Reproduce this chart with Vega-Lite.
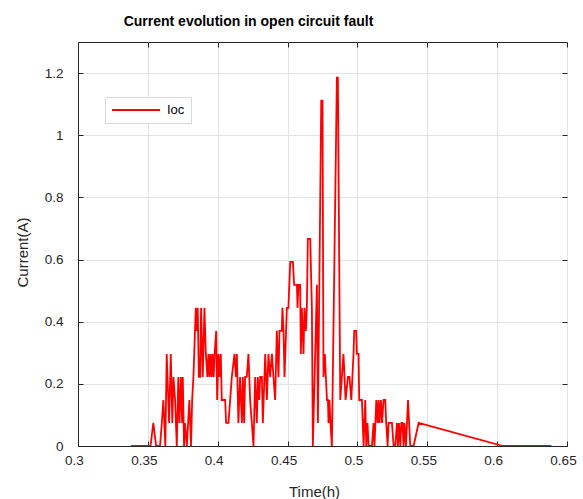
{
  "$schema": "https://vega.github.io/schema/vega-lite/v6.json",
  "width": 489,
  "height": 404,
  "autosize": {"type": "none"},
  "padding": {"left": 78, "top": 42, "right": 16, "bottom": 53},
  "background": "white",
  "config": {"view": {"stroke": "#262626", "strokeWidth": 1}, "font": "Liberation Sans"},
  "title": {"text": "Current evolution in open circuit fault", "font": "Liberation Sans", "fontSize": 14, "fontWeight": "bold", "color": "#000000", "anchor": "middle", "frame": "group", "dx": -74, "dy": 15, "offset": 17, "baseline": "alphabetic"},
  "data": {"values": [
    {"t":0.3380,"i":0},{"t":0.3519,"i":0},{"t":0.3539,"i":0.0741},{"t":0.3559,"i":0},{"t":0.3587,"i":0},
    {"t":0.3600,"i":0.0741},{"t":0.3611,"i":0.1481},{"t":0.3625,"i":0},{"t":0.3635,"i":0.2963},{"t":0.3652,"i":0.0741},
    {"t":0.3664,"i":0.2963},{"t":0.3675,"i":0.0741},{"t":0.3683,"i":0.2222},{"t":0.3695,"i":0.1481},{"t":0.3707,"i":0},
    {"t":0.3718,"i":0.2222},{"t":0.3726,"i":0.0741},{"t":0.3736,"i":0.2222},{"t":0.3745,"i":0.0741},{"t":0.3750,"i":0.2222},
    {"t":0.3759,"i":0},{"t":0.3766,"i":0.0741},{"t":0.3779,"i":0},{"t":0.3788,"i":0.0741},{"t":0.3797,"i":0.1481},
    {"t":0.3809,"i":0},{"t":0.3817,"i":0.1481},{"t":0.3826,"i":0.2222},{"t":0.3843,"i":0.4444},{"t":0.3850,"i":0.3704},
    {"t":0.3857,"i":0.4444},{"t":0.3865,"i":0.2222},{"t":0.3874,"i":0.2222},{"t":0.3881,"i":0.4444},{"t":0.3893,"i":0.2222},
    {"t":0.3905,"i":0.4444},{"t":0.3915,"i":0.2963},{"t":0.3926,"i":0.2222},{"t":0.3933,"i":0.2963},{"t":0.3941,"i":0.2222},
    {"t":0.3948,"i":0.2963},{"t":0.3956,"i":0.2222},{"t":0.3963,"i":0.2963},{"t":0.3971,"i":0.2222},{"t":0.3978,"i":0.2963},
    {"t":0.3989,"i":0.3704},{"t":0.3996,"i":0.1481},{"t":0.4005,"i":0.2963},{"t":0.4012,"i":0.2222},{"t":0.4022,"i":0.2963},
    {"t":0.4029,"i":0.1481},{"t":0.4053,"i":0.1481},{"t":0.4060,"i":0.0741},{"t":0.4077,"i":0.0741},{"t":0.4089,"i":0.1481},
    {"t":0.4101,"i":0.2222},{"t":0.4120,"i":0.2963},{"t":0.4130,"i":0.2222},{"t":0.4137,"i":0.2963},{"t":0.4148,"i":0.0741},
    {"t":0.4160,"i":0.2222},{"t":0.4173,"i":0.0741},{"t":0.4180,"i":0.2222},{"t":0.4189,"i":0.0741},{"t":0.4196,"i":0.2222},
    {"t":0.4208,"i":0.2222},{"t":0.4220,"i":0.2963},{"t":0.4232,"i":0.1481},{"t":0.4244,"i":0.0741},{"t":0.4256,"i":0},
    {"t":0.4268,"i":0.2222},{"t":0.4280,"i":0.0741},{"t":0.4287,"i":0.2222},{"t":0.4297,"i":0.1481},{"t":0.4304,"i":0.2222},
    {"t":0.4316,"i":0.2222},{"t":0.4323,"i":0.0741},{"t":0.4340,"i":0.2963},{"t":0.4352,"i":0.1481},{"t":0.4363,"i":0.2963},
    {"t":0.4375,"i":0.2222},{"t":0.4388,"i":0.2963},{"t":0.4399,"i":0.2222},{"t":0.4411,"i":0.1481},{"t":0.4423,"i":0.3704},
    {"t":0.4435,"i":0.2222},{"t":0.4442,"i":0.3704},{"t":0.4459,"i":0.3704},{"t":0.4463,"i":0.4444},{"t":0.4471,"i":0.3704},
    {"t":0.4478,"i":0.2222},{"t":0.4495,"i":0.4444},{"t":0.4506,"i":0.4444},{"t":0.4519,"i":0.5926},{"t":0.4538,"i":0.5926},
    {"t":0.4547,"i":0.5185},{"t":0.4567,"i":0.5185},{"t":0.4571,"i":0.4444},{"t":0.4578,"i":0.5185},{"t":0.4590,"i":0.5185},
    {"t":0.4595,"i":0.2963},{"t":0.4602,"i":0.4444},{"t":0.4614,"i":0.2963},{"t":0.4621,"i":0.4444},{"t":0.4631,"i":0.3704},
    {"t":0.4638,"i":0.4444},{"t":0.4645,"i":0.6667},{"t":0.4662,"i":0.6667},{"t":0.4674,"i":0.4444},{"t":0.4681,"i":0},
    {"t":0.4710,"i":0.5185},{"t":0.4717,"i":0.0741},{"t":0.4741,"i":1.1111},{"t":0.4750,"i":1.1111},{"t":0.4757,"i":0.2222},
    {"t":0.4767,"i":0.2963},{"t":0.4774,"i":0.2222},{"t":0.4782,"i":0.1481},{"t":0.4789,"i":0.1481},{"t":0.4793,"i":0.0741},
    {"t":0.4800,"i":0.1481},{"t":0.4807,"i":0.0741},{"t":0.4817,"i":0},{"t":0.4853,"i":1.1852},{"t":0.4860,"i":1.1852},
    {"t":0.4877,"i":0.1481},{"t":0.4900,"i":0.2963},{"t":0.4915,"i":0.1481},{"t":0.4932,"i":0.2222},{"t":0.4943,"i":0.2222},
    {"t":0.4956,"i":0.1481},{"t":0.4972,"i":0.2963},{"t":0.4977,"i":0.3704},{"t":0.4991,"i":0.3704},{"t":0.4996,"i":0.2963},
    {"t":0.5008,"i":0.2963},{"t":0.5013,"i":0.1481},{"t":0.5032,"i":0.1481},{"t":0.5044,"i":0},{"t":0.5056,"i":0.1481},
    {"t":0.5063,"i":0},{"t":0.5072,"i":0.0741},{"t":0.5080,"i":0},{"t":0.5104,"i":0},{"t":0.5115,"i":0.0741},
    {"t":0.5122,"i":0},{"t":0.5135,"i":0.1481},{"t":0.5144,"i":0.0741},{"t":0.5151,"i":0.1481},{"t":0.5158,"i":0.0741},
    {"t":0.5168,"i":0.1481},{"t":0.5176,"i":0.0741},{"t":0.5187,"i":0.1481},{"t":0.5199,"i":0.1481},{"t":0.5206,"i":0.0741},
    {"t":0.5216,"i":0},{"t":0.5223,"i":0.0741},{"t":0.5235,"i":0.0741},{"t":0.5247,"i":0.0741},{"t":0.5259,"i":0},
    {"t":0.5271,"i":0},{"t":0.5283,"i":0.0741},{"t":0.5290,"i":0},{"t":0.5297,"i":0.0741},{"t":0.5307,"i":0},
    {"t":0.5314,"i":0.0741},{"t":0.5323,"i":0.0741},{"t":0.5330,"i":0},{"t":0.5337,"i":0.0741},{"t":0.5347,"i":0},
    {"t":0.5362,"i":0.1481},{"t":0.5378,"i":0},{"t":0.5402,"i":0},{"t":0.5438,"i":0.0741},{"t":0.6042,"i":0},
    {"t":0.6388,"i":0}
  ]},
  "layer": [
    {
      "mark": {"type": "line", "strokeWidth": 1.8, "clip": true},
      "encoding": {
        "x": {"field": "t", "type": "quantitative",
          "scale": {"domain": [0.3, 0.65], "nice": false, "zero": false},
          "axis": {"title": "Time(h)", "values": [0.3, 0.35, 0.4, 0.45, 0.5, 0.55, 0.6, 0.65],
            "labelExpr": "format(datum.value, '.2~f')", "grid": true, "gridColor": "#e3e3e3",
            "tickSize": -5, "tickColor": "#262626", "domainColor": "#262626", "labelFlush": false,
            "labelColor": "#262626", "labelFontSize": 13.5, "labelPadding": 12, "labelOffset": -4,
            "titleFontSize": 15, "titleFontWeight": "normal", "titleColor": "#262626",
            "titleX": 236, "titleY": 50, "titleBaseline": "alphabetic"}},
        "y": {"field": "i", "type": "quantitative",
          "scale": {"domain": [0, 1.3], "nice": false, "zero": true},
          "axis": {"title": "Current(A)", "values": [0, 0.2, 0.4, 0.6, 0.8, 1, 1.2],
            "labelExpr": "format(datum.value, '.1~f')", "grid": true, "gridColor": "#e3e3e3",
            "tickSize": -5, "tickColor": "#262626", "domainColor": "#262626", "labelFlush": false,
            "labelColor": "#262626", "labelFontSize": 13.5, "labelPadding": 20,
            "titleFontSize": 15, "titleFontWeight": "normal", "titleColor": "#262626",
            "titleX": -51, "titleY": 210, "titleBaseline": "alphabetic", "titleAlign": "center"}},
        "color": {"datum": "Ioc", "type": "nominal", "scale": {"range": ["#ff0000"]},
          "legend": {"orient": "none", "legendX": 27, "legendY": 55, "title": null,
            "symbolType": "M-1,0H7", "symbolSize": 144, "symbolStrokeWidth": 2,
            "strokeColor": "#d9d9d9", "fillColor": "#ffffff", "padding": 6,
            "labelFontSize": 13, "labelColor": "#000000", "labelOffset": 42}}
      }
    },
    {
      "mark": {"type": "line", "opacity": 0},
      "encoding": {
        "x": {"field": "t", "type": "quantitative",
          "scale": {"domain": [0.3, 0.65], "nice": false, "zero": false},
          "axis": {"orient": "top", "title": null, "labels": false, "grid": false, "domain": false,
            "values": [0.3, 0.35, 0.4, 0.45, 0.5, 0.55, 0.6, 0.65], "tickSize": -5, "tickColor": "#262626"}},
        "y": {"field": "i", "type": "quantitative",
          "scale": {"domain": [0, 1.3], "nice": false, "zero": true},
          "axis": {"orient": "right", "title": null, "labels": false, "grid": false, "domain": false,
            "values": [0, 0.2, 0.4, 0.6, 0.8, 1, 1.2], "tickSize": -5, "tickColor": "#262626"}}
      }
    }
  ],
  "resolve": {"axis": {"x": "independent", "y": "independent"}}
}
